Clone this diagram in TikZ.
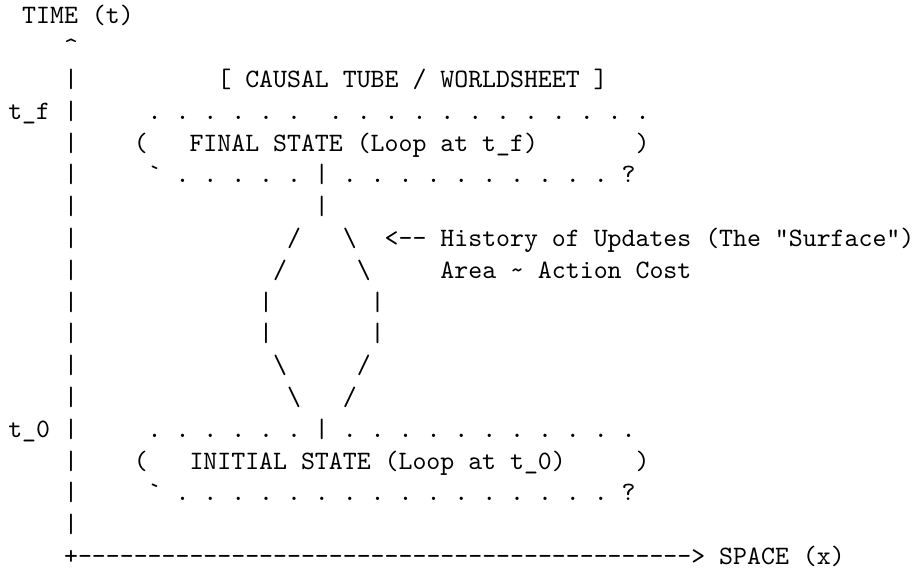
\documentclass[tikz,border=0pt]{standalone}
\usepackage{fontspec}
\newfontfamily\asciifont{lmmono10-regular.otf}
\begin{document}
% Monospaced character grid: one column = 13.94pt, one row = 31.8pt
\begin{tikzpicture}[x=13.94pt, y=-31.8pt,
  art/.style={anchor=base west, inner sep=0pt, outer sep=0pt,
              font=\asciifont\fontsize{26.55}{31.8}\selectfont}]
\fill[white] (0pt,0pt) rectangle (913pt,-569pt);
\useasboundingbox (0pt,0pt) rectangle (913pt,-569pt);
\begin{scope}[shift={(8.3pt,-23.9pt)}]
  % time axis
  \node[art] (timelabel) at (1,0) {TIME (t)};
  \node[art] (tip) at (4,1) {\textasciicircum};
  \foreach \r in {2,4,5,...,12,14,15,16}
    \node[art] (axis\r) at (4,\r) {|};
  \node[art] (tf) at (0,3) {t\_f |};
  \node[art] (tzero) at (0,13) {t\_0 |};

  % title
  \node[art] (title) at (15,2) {[ CAUSAL TUBE / WORLDSHEET ]};

  % final state loop
  \foreach \c in {10,12,...,20,23,25,...,45}
    \node[art] (ftop\c) at (\c,3) {.};
  \node[art] (fopen) at (9,4) {(};
  \node[art] (ftext) at (13,4) {FINAL STATE (Loop at t\_f)};
  \node[art] (fclose) at (45,4) {)};
  \node[art] (fgrave) at (10,5) {\textasciigrave};
  \foreach \c in {12,14,...,20,24,26,...,42}
    \node[art] (fbot\c) at (\c,5) {.};
  \node[art] (fstem) at (22,5) {|};
  \node[art] (fq) at (44,5) {?};

  % the surface between the two loops
  \node[art] (neck) at (22,6) {|};
  \node[art] (ul1) at (20,7) {/};
  \node[art] (ur1) at (24,7) {\textbackslash};
  \node[art] (ul2) at (19,8) {/};
  \node[art] (ur2) at (25,8) {\textbackslash};
  \node[art] (ml1) at (18,9) {|};
  \node[art] (mr1) at (26,9) {|};
  \node[art] (ml2) at (18,10) {|};
  \node[art] (mr2) at (26,10) {|};
  \node[art] (ll1) at (19,11) {\textbackslash};
  \node[art] (lr1) at (25,11) {/};
  \node[art] (ll2) at (20,12) {\textbackslash};
  \node[art] (lr2) at (24,12) {/};

  % annotation
  \node[art] (history) at (27,7) {<-- History of Updates (The "Surface")};
  \node[art] (area) at (31,8) {Area \textasciitilde{} Action Cost};

  % initial state loop
  \foreach \c in {10,12,...,20,24,26,...,44}
    \node[art] (itop\c) at (\c,13) {.};
  \node[art] (istem) at (22,13) {|};
  \node[art] (iopen) at (9,14) {(};
  \node[art] (itext) at (13,14) {INITIAL STATE (Loop at t\_0)};
  \node[art] (iclose) at (45,14) {)};
  \node[art] (igrave) at (10,15) {\textasciigrave};
  \foreach \c in {12,14,...,42}
    \node[art] (ibot\c) at (\c,15) {.};
  \node[art] (iq) at (44,15) {?};

  % space axis
  \node[art] (origin) at (4,17) {+};
  \foreach \c in {5,...,48}
    \node[art] (dash\c) at (\c,17) {-};
  \node[art] (head) at (49,17) {>};
  \node[art] (spacelabel) at (51,17) {SPACE (x)};
\end{scope}
\end{tikzpicture}
\end{document}
